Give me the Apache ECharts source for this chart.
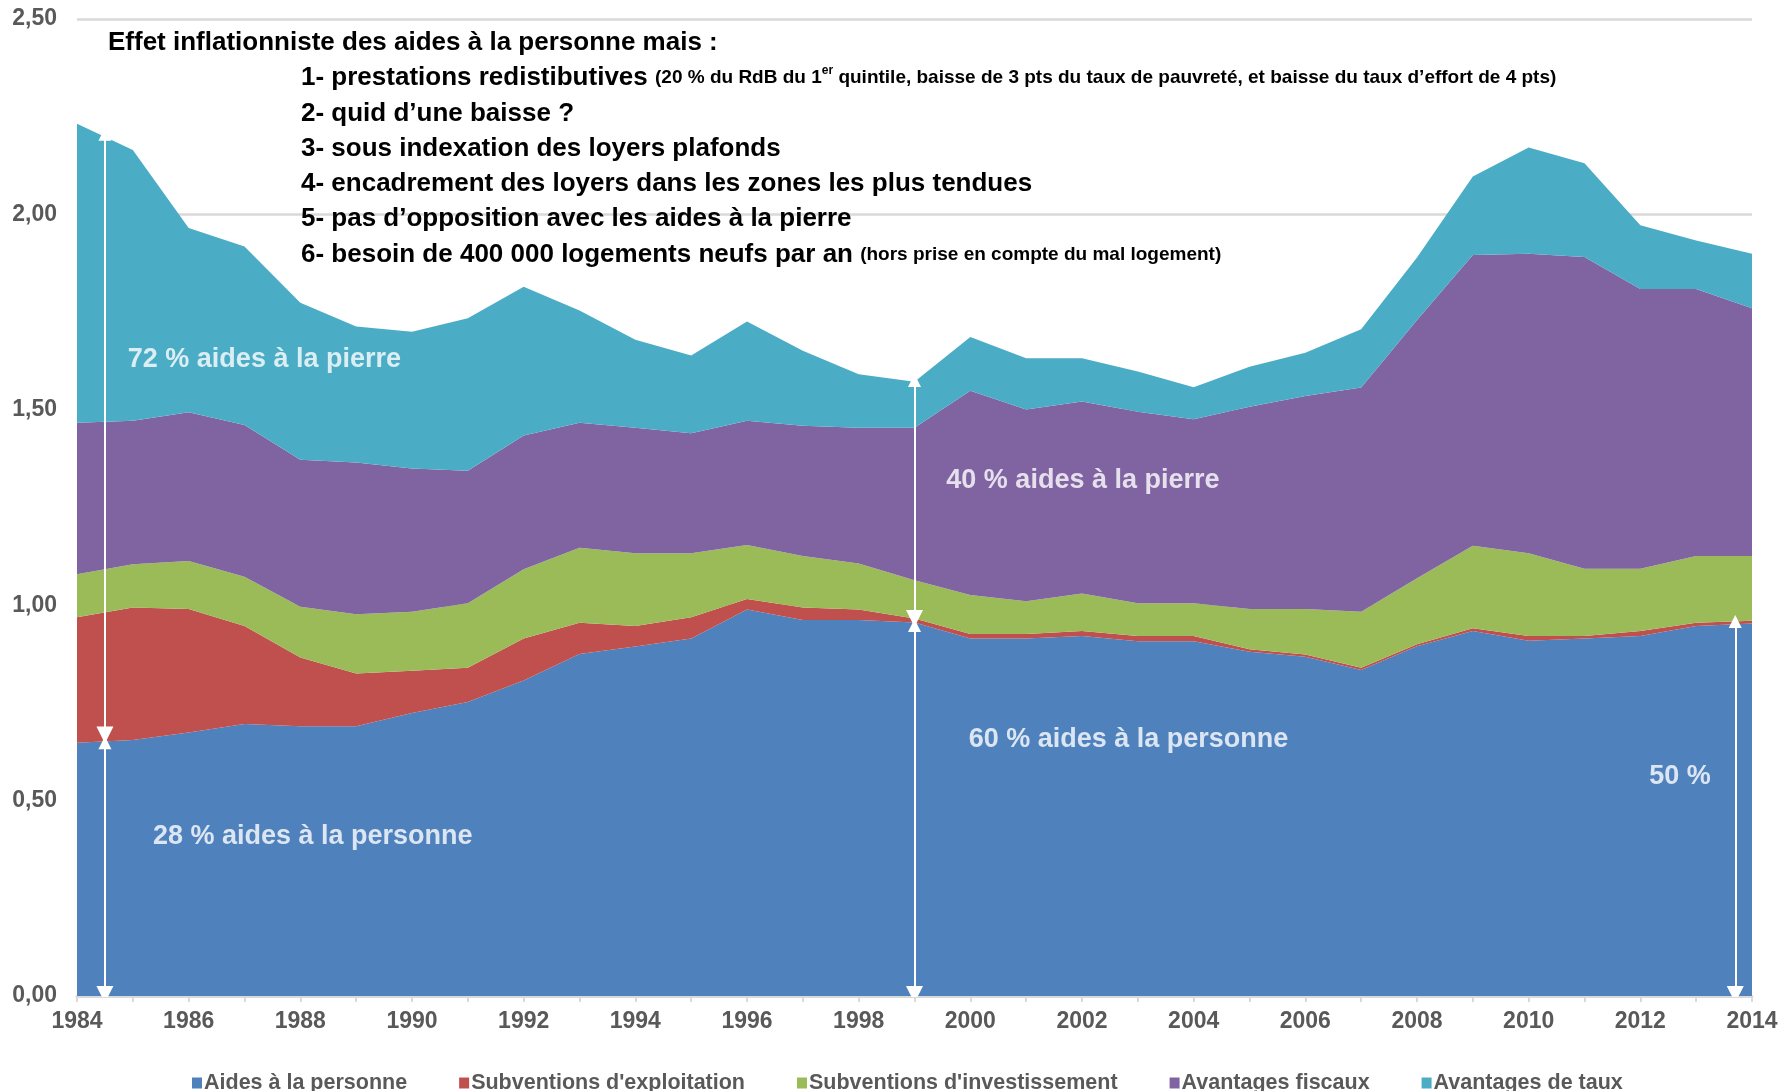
<!DOCTYPE html>
<html>
<head>
<meta charset="utf-8">
<title>Aides au logement 1984-2014</title>
<script src="https://cdn.jsdelivr.net/npm/echarts@6/dist/echarts.min.js"></script>
<style>
  html, body { margin: 0; padding: 0; background: #fff; }
  #chart { width: 1782px; height: 1091px; }
</style>
</head>
<body>
<div id="chart"></div>
<script>
var years = ['1984','1985','1986','1987','1988','1989','1990','1991','1992','1993','1994','1995','1996','1997','1998','1999',
             '2000','2001','2002','2003','2004','2005','2006','2007','2008','2009','2010','2011','2012','2013','2014'];

var aidesPersonne = [0.648,0.655,0.674,0.696,0.690,0.690,0.724,0.752,0.807,0.875,0.894,0.915,0.989,0.962,0.962,0.956,
                     0.915,0.915,0.921,0.908,0.908,0.881,0.868,0.834,0.895,0.934,0.909,0.915,0.921,0.947,0.953];
var subvExploitation = [0.321,0.339,0.316,0.251,0.176,0.135,0.108,0.088,0.108,0.080,0.053,0.054,0.027,0.032,0.027,0.010,
                        0.011,0.011,0.013,0.013,0.013,0.006,0.006,0.006,0.005,0.007,0.012,0.006,0.013,0.008,0.007];
var subvInvestissement = [0.110,0.111,0.123,0.126,0.130,0.152,0.151,0.165,0.177,0.192,0.186,0.164,0.138,0.132,0.118,0.098,
                          0.100,0.084,0.096,0.084,0.084,0.103,0.116,0.143,0.169,0.211,0.212,0.172,0.159,0.171,0.166];
var avantagesFiscaux = [0.388,0.367,0.381,0.388,0.376,0.388,0.367,0.339,0.342,0.320,0.321,0.307,0.318,0.333,0.347,0.390,
                        0.523,0.491,0.491,0.490,0.471,0.518,0.545,0.574,0.661,0.744,0.766,0.798,0.716,0.683,0.634];
var avantagesTaux = [0.765,0.693,0.471,0.457,0.402,0.348,0.350,0.390,0.381,0.287,0.225,0.199,0.254,0.192,0.137,0.118,
                     0.137,0.131,0.111,0.103,0.082,0.102,0.111,0.149,0.160,0.201,0.272,0.240,0.163,0.124,0.139];

var seriesNames = ['Aides à la personne', "Subventions d'exploitation", "Subventions d'investissement", 'Avantages fiscaux', 'Avantages de taux'];
var seriesColors = ['#4f81bd', '#c0504d', '#9bbb59', '#8064a2', '#4bacc6'];

// double arrows : [annee, haut, bas]
var arrows = [
  [1984.5, 2.205, 0.668], [1984.5, 0.648, 0.004],
  [1999, 1.575, 0.966], [1999, 0.948, 0.004],
  [2013.7, 0.958, 0.004]
];
// labels blancs : [texte, annee, valeur]
var whiteLabels = [
  ['72 % aides à la pierre', 1984.91, 1.628],
  ['40 % aides à la pierre', 1999.57, 1.318],
  ['60 % aides à la personne', 1999.97, 0.657],
  ['28 % aides à la personne', 1985.36, 0.409],
  ['50 %', 2012.16, 0.562]
];

var FONT = "'Liberation Sans Narrow', 'Liberation Sans', Arial, sans-serif";
var values = [aidesPersonne, subvExploitation, subvInvestissement, avantagesFiscaux, avantagesTaux];

var series = [];
for (var i = 0; i < values.length; i++) {
  series.push({
    name: seriesNames[i],
    type: 'line',
    stack: 'total',
    data: values[i],
    showSymbol: false,
    symbol: 'none',
    lineStyle: { width: 0 },
    areaStyle: { color: seriesColors[i], opacity: 1 },
    itemStyle: { color: seriesColors[i] },
    emphasis: { disabled: true },
    z: 2
  });
}

series.push({
  type: 'lines',
  coordinateSystem: 'cartesian2d',
  xAxisIndex: 1,
  yAxisIndex: 0,
  symbol: ['triangle', 'triangle'],
  symbolSize: [13, 17],
  lineStyle: { color: '#fff', width: 2, opacity: 1 },
  data: arrows.map(function (a) { return { coords: [[a[0], a[1]], [a[0], a[2]]] }; }),
  silent: true,
  z: 5
});

series.push({
  type: 'scatter',
  xAxisIndex: 1,
  yAxisIndex: 0,
  symbolSize: 0,
  data: whiteLabels.map(function (l) { return { name: l[0], value: [l[1], l[2]] }; }),
  label: {
    show: true, position: 'right', distance: 0,
    formatter: '{b}', color: '#fff',
    fontFamily: FONT, fontWeight: 'bold', fontSize: 27
  },
  silent: true,
  z: 6
});

var black = { fontFamily: FONT, fontWeight: 'bold', fontSize: 26, fill: '#000' };
var small = { fontFamily: FONT, fontWeight: 'bold', fontSize: 19, fill: '#000' };

function line(x, y, text) {
  return { type: 'text', x: x, y: y, z: 10,
    style: { text: text, fontFamily: FONT, fontWeight: 'bold', fontSize: 26, fill: '#000', verticalAlign: 'middle',
      rich: { b: black, s: small, sup: { fontFamily: FONT, fontWeight: 'bold', fontSize: 12, fill: '#000', verticalAlign: 'top', padding: [0, 0, 8, 0] } } } };
}

var chart = echarts.init(document.getElementById('chart'));
chart.setOption({
  animation: false,
  grid: { left: 77, right: 30, top: 19, bottom: 95, containLabel: false },
  legend: {
    data: seriesNames,
    bottom: -8,
    left: 187,
    icon: 'rect',
    itemWidth: 10,
    itemHeight: 11,
    itemGap: 52,
    textStyle: { color: '#595959', fontFamily: FONT, fontWeight: 'bold', fontSize: 21.5, padding: [0, 0, 0, -3] }
  },
  xAxis: [{
    type: 'category',
    data: years,
    boundaryGap: false,
    axisLine: { lineStyle: { color: '#d9d9d9', width: 3 } },
    axisTick: { show: true, interval: 0, length: 6, lineStyle: { color: '#d9d9d9', width: 2 } },
    axisLabel: { interval: 1, color: '#595959', fontFamily: FONT, fontWeight: 'bold', fontSize: 23, margin: 14 },
    splitLine: { show: false }
  }, {
    type: 'value',
    min: 1984, max: 2014,
    show: false
  }],
  yAxis: {
    type: 'value',
    min: 0, max: 2.5, interval: 0.5,
    axisLine: { show: false },
    axisTick: { show: false },
    axisLabel: {
      color: '#595959', fontFamily: FONT, fontWeight: 'bold', fontSize: 23, margin: 20,
      formatter: function (v) { return v.toFixed(2).replace('.', ','); }
    },
    splitLine: { lineStyle: { color: '#d9d9d9', width: 2.5 } }
  },
  graphic: [
    line(108, 43, 'Effet inflationniste des aides à la personne mais :'),
    line(301, 78, '{b|1- prestations redistibutives }{s|(20 % du RdB du 1}{sup|er}{s| quintile, baisse de 3 pts du taux de pauvreté, et baisse du taux d’effort de 4 pts)}'),
    line(301, 114, '2- quid d’une baisse ?'),
    line(301, 149, '3- sous indexation des loyers plafonds'),
    line(301, 184, '4- encadrement des loyers dans les zones les plus tendues'),
    line(301, 219, '5- pas d’opposition avec les aides à la pierre'),
    line(301, 255, '{b|6- besoin de 400 000 logements neufs par an }{s|(hors prise en compte du mal logement)}')
  ],
  series: series
});
</script>
</body>
</html>
